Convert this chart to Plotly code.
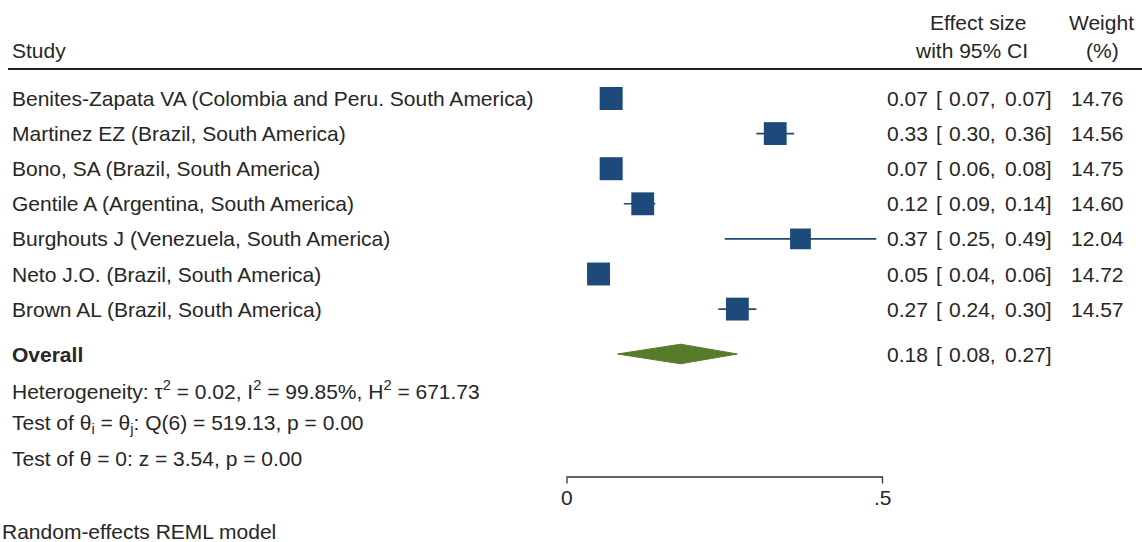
import plotly.graph_objects as go

# ---------------- data ----------------
studies = [
    "Benites-Zapata VA (Colombia and Peru. South America)",
    "Martinez EZ (Brazil, South America)",
    "Bono, SA (Brazil, South America)",
    "Gentile A (Argentina, South America)",
    "Burghouts J (Venezuela, South America)",
    "Neto J.O. (Brazil, South America)",
    "Brown AL (Brazil, South America)",
]
effect = [0.07, 0.33, 0.07, 0.12, 0.37, 0.05, 0.27]
ci_low = [0.07, 0.30, 0.06, 0.09, 0.25, 0.04, 0.24]
ci_high = [0.07, 0.36, 0.08, 0.14, 0.49, 0.06, 0.30]
weights = [14.76, 14.56, 14.75, 14.60, 12.04, 14.72, 14.57]

overall_label = "Overall"
overall_effect = 0.18
overall_low = 0.08
overall_high = 0.27

stats_lines = [
    "Heterogeneity: τ<sup>2</sup> = 0.02, I<sup>2</sup> = 99.85%, H<sup>2</sup> = 671.73",
    "Test of θ<sub>i</sub> = θ<sub>j</sub>: Q(6) = 519.13, p = 0.00",
    "Test of θ = 0: z = 3.54, p = 0.00",
]
tick_vals = [0, 0.5]
tick_text = ["0", ".5"]
footer = "Random-effects REML model"

# ---------------- layout constants ----------------
W, H = 1142, 542
X0_PX, PX_PER_UNIT = 567, 631.0          # pixel of x=0, pixels per unit
ROW0_PX, ROW_PX = 98.5, 35.1              # pixel of first study row, row pitch


def row_of(px):
    return (px - ROW0_PX) / ROW_PX


def paper_x(px):
    return px / W


FONT = "Liberation Sans, Arial, Helvetica, sans-serif"
FS = 21
TXT = "#262626"
BLUE = "#1d4a7a"
GREEN = "#587b2b"

study_rows = list(range(len(studies)))
overall_row = row_of(354)
stats_rows = [row_of(390), row_of(424), row_of(458)]
head_line_row = row_of(69)
head1_row, head2_row = row_of(22), row_of(50)
axis_row = row_of(477)
tick_len = 6.5 / ROW_PX
ticklab_row = row_of(497)
footer_row = row_of(531)

fig = go.Figure()

# CI whiskers
cx, cy = [], []
for r, l, h in zip(study_rows, ci_low, ci_high):
    cx += [l, h, None]
    cy += [r, r, None]
fig.add_trace(go.Scatter(x=cx, y=cy, mode="lines",
                         line=dict(color=BLUE, width=1.6),
                         hoverinfo="skip", showlegend=False))

# weighted squares (area proportional to weight)
max_w = max(weights)
sizes = [23.0 * (w / max_w) ** 0.5 for w in weights]
fig.add_trace(go.Scatter(x=effect, y=study_rows, mode="markers",
                         marker=dict(symbol="square", size=sizes, color=BLUE,
                                     opacity=1, line=dict(width=0)),
                         opacity=1, showlegend=False))

# overall diamond
dh = 9.8 / ROW_PX
fig.add_trace(go.Scatter(
    x=[overall_low, overall_effect, overall_high, overall_effect, overall_low],
    y=[overall_row, overall_row - dh, overall_row, overall_row + dh, overall_row],
    mode="lines", fill="toself", fillcolor=GREEN,
    line=dict(color=GREEN, width=1), showlegend=False, hoverinfo="skip"))

# x-axis line with ticks
ax_x = [tick_vals[0], tick_vals[0], tick_vals[-1], tick_vals[-1]]
ax_y = [axis_row + tick_len, axis_row, axis_row, axis_row + tick_len]
fig.add_trace(go.Scatter(x=ax_x, y=ax_y, mode="lines",
                         line=dict(color="#333333", width=1.3),
                         hoverinfo="skip", showlegend=False))

ann = []


def add_text(text, xpx, row, anchor="left", bold=False, size=FS, xref="paper", x=None):
    ann.append(dict(
        text=f"<b>{text}</b>" if bold else text,
        x=paper_x(xpx) if x is None else x, xref=xref,
        y=row, yref="y", xanchor=anchor, yanchor="middle",
        showarrow=False, font=dict(family=FONT, size=size, color=TXT)))


def add_ci(row, e, l, h):
    add_text(f"{e:.2f}", 930, row, "right")
    add_text("[", 934, row, "left")
    add_text(f"{l:.2f},", 947, row, "left")
    add_text(f"{h:.2f}]", 1054, row, "right")


# headers
add_text("Study", 10, head2_row)
add_text("Effect size", 1029, head1_row, "right")
add_text("with 95% CI", 1030, head2_row, "right")
add_text("Weight", 1101, head1_row, "center")
add_text("(%)", 1102, head2_row, "center")

# study rows
for r, s, e, l, h, w in zip(study_rows, studies, effect, ci_low, ci_high, weights):
    add_text(s, 10, r)
    add_ci(r, e, l, h)
    add_text(f"{w:.2f}", 1126, r, "right")

# overall row
add_text(overall_label, 10, overall_row, bold=True)
add_ci(overall_row, overall_effect, overall_low, overall_high)

# statistics
for r, s in zip(stats_rows, stats_lines):
    add_text(s, 10, r)

# tick labels
for tv, tt in zip(tick_vals, tick_text):
    add_text(tt, 0, ticklab_row, "center", xref="x", x=tv)

# footer
add_text(footer, 0, footer_row)

fig.update_layout(
    width=W, height=H,
    margin=dict(l=0, r=0, t=0, b=0),
    paper_bgcolor="white", plot_bgcolor="white",
    xaxis=dict(range=[-X0_PX / PX_PER_UNIT, (W - X0_PX) / PX_PER_UNIT],
               visible=False, fixedrange=True),
    yaxis=dict(range=[row_of(H), row_of(0)], visible=False, fixedrange=True),
    annotations=ann,
    shapes=[dict(type="line", xref="paper", yref="y",
                 x0=paper_x(8), x1=1.0, y0=head_line_row, y1=head_line_row,
                 line=dict(color="#222222", width=1.8))],
    showlegend=False,
)

fig.write_html("out.html", config={"displayModeBar": False},
               post_script="document.body.style.margin='0';")
